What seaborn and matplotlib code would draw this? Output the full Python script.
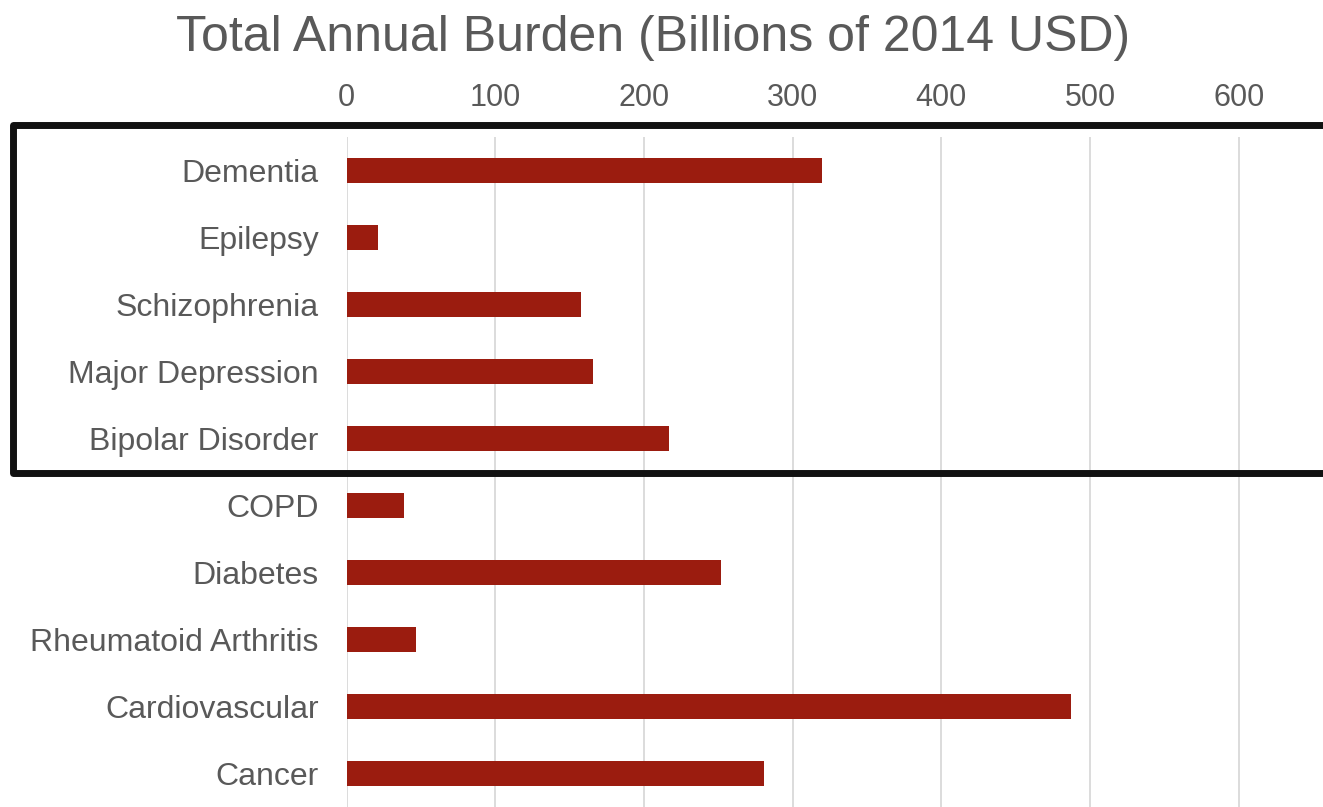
import matplotlib
matplotlib.use("Agg")
import matplotlib.pyplot as plt
import matplotlib.lines as mlines
import seaborn as sns
import pandas as pd

conditions = ["Dementia", "Epilepsy", "Schizophrenia", "Major Depression",
              "Bipolar Disorder", "COPD", "Diabetes", "Rheumatoid Arthritis",
              "Cardiovascular", "Cancer"]
burden = [320, 21, 158, 166, 217, 39, 252, 47, 487, 281]
x_ticks = [0, 100, 200, 300, 400, 500, 600]

df = pd.DataFrame({"condition": conditions, "burden": burden})

sns.set_theme(style="white")
plt.rcParams["font.family"] = ["Liberation Sans", "DejaVu Sans"]

W, H = 1323, 807
fig = plt.figure(figsize=(W / 100, H / 100), dpi=100)
ax = fig.add_axes([346.5 / W, 0.0, 1 - 346.5 / W, (806.5 - 136.5) / H])

sns.barplot(data=df, x="burden", y="condition", orient="h", order=conditions,
            color="#9B1C0F", saturation=1, width=0.37, ax=ax,
            edgecolor="none")

ax.set_xlim(0, (W - 346.5) / 148.7 * 100)
ax.set_ylim(9.5, -0.5)
ax.set_xticks(x_ticks)
ax.set_xticklabels([str(t) for t in x_ticks])
ax.xaxis.tick_top()
ax.set_xlabel("")
ax.set_ylabel("")
ax.grid(axis="x", color="#D9D9D9", linewidth=1.3)
ax.set_axisbelow(True)
for s in ax.spines.values():
    s.set_visible(False)
ax.tick_params(axis="x", length=0, pad=17.5, labelsize=22, labelcolor="#595959")
ax.tick_params(axis="y", length=0, pad=20, labelsize=23, labelcolor="#595959")

fig.text(653.5 / W, 1 - 38 / H, "Total Annual Burden (Billions of 2014 USD)",
         ha="center", va="center", fontsize=36, color="#595959")

# Frame around the neurological / psychiatric group (open on the right, past the edge)
x_left, x_right = 13.5 / W, 1.02
y_top, y_bot = 1 - 124.5 / H, 1 - 473 / H
frame = mlines.Line2D([x_right, x_left, x_left, x_right],
                      [y_top, y_top, y_bot, y_bot],
                      transform=fig.transFigure, color="#111111", linewidth=5,
                      solid_joinstyle="round", solid_capstyle="butt")
fig.lines.append(frame)

fig.savefig("out.png", dpi=100, facecolor="white")
